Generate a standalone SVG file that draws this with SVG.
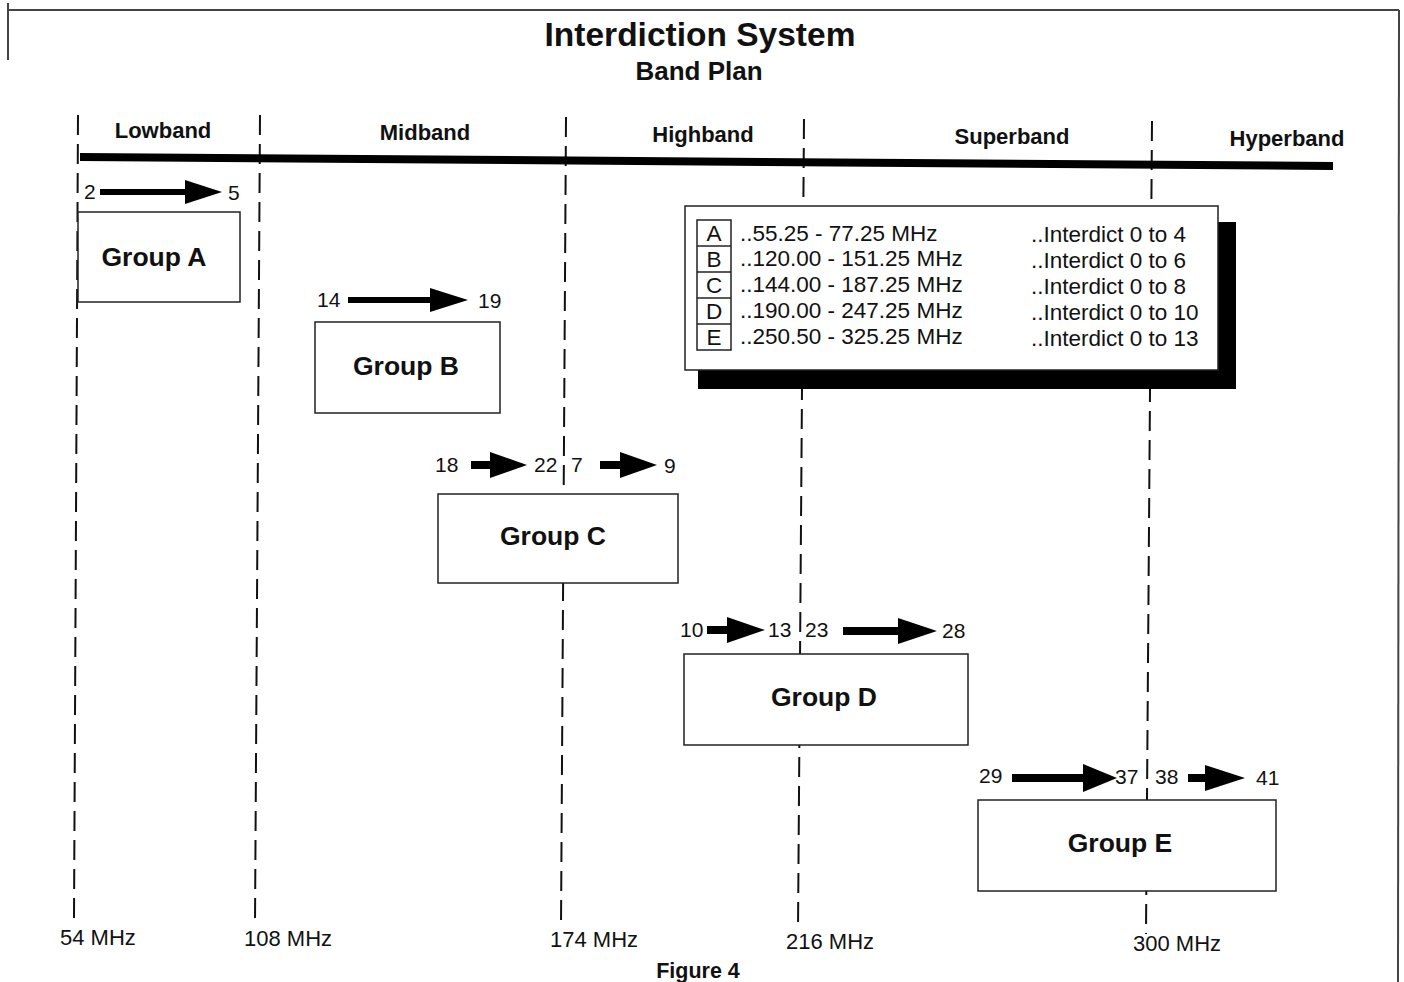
<svg xmlns="http://www.w3.org/2000/svg" width="1404" height="982" viewBox="0 0 1404 982">
<style>
  .t { font-family: "Liberation Sans", Arial, sans-serif; fill: #111; }
  .b { font-weight: bold; }
  .band { font-family: "Liberation Sans", Arial, sans-serif; font-weight: bold; font-size: 22px; text-anchor: middle; fill: #111; }
  .num { font-family: "Liberation Sans", Arial, sans-serif; font-size: 21px; fill: #111; }
  .freq { font-family: "Liberation Sans", Arial, sans-serif; font-size: 22px; fill: #111; }
  .leg { font-family: "Liberation Sans", Arial, sans-serif; font-size: 22.5px; fill: #111; }
  .grp rect { fill: #fff; stroke: #222; stroke-width: 1.5; }
  .grp text { font-family: "Liberation Sans", Arial, sans-serif; font-weight: bold; font-size: 26.5px; text-anchor: middle; fill: #111; }
  .dash { stroke: #111; stroke-width: 2; stroke-dasharray: 20 9; fill: none; }
  .arr { fill: #000; }
</style>
<rect width="1404" height="982" fill="#fff"/>
<g id="border" stroke="#444" stroke-width="2" fill="none">
  <line x1="8" y1="10" x2="1399" y2="10"/>
  <line x1="1399" y1="10" x2="1398" y2="982"/>
  <line x1="8" y1="3" x2="8" y2="60"/>
</g>
<g id="title">
  <text class="t b" x="700" y="46" font-size="33.5" text-anchor="middle">Interdiction System</text>
  <text class="t b" x="699" y="80" font-size="26" text-anchor="middle">Band Plan</text>
</g>
<g id="dividers">
  <line class="dash" x1="78" y1="115" x2="74" y2="918"/>
  <line class="dash" x1="260" y1="115" x2="255" y2="922"/>
  <line class="dash" x1="566" y1="117" x2="561" y2="926"/>
  <line class="dash" x1="804" y1="119" x2="798" y2="930"/>
  <line class="dash" x1="1152" y1="121" x2="1146" y2="934"/>
</g>
<g id="band-bar">
  <path d="M80 153 L1333 162 L1333 170 L80 161 Z" fill="#000"/>
</g>
<g id="band-labels">
  <text class="band" x="163" y="138">Lowband</text>
  <text class="band" x="425" y="140">Midband</text>
  <text class="band" x="703" y="142">Highband</text>
  <text class="band" x="1012" y="144">Superband</text>
  <text class="band" x="1287" y="146">Hyperband</text>
</g>
<g id="legend">
  <rect x="698" y="222" width="538" height="167" fill="#000"/>
  <rect x="685" y="206" width="533" height="164" fill="#fff" stroke="#222" stroke-width="1.5"/>
  <g fill="none" stroke="#222" stroke-width="1.5">
    <rect x="697" y="220" width="34" height="130"/>
    <line x1="697" y1="246" x2="731" y2="246"/>
    <line x1="697" y1="272" x2="731" y2="272"/>
    <line x1="697" y1="298" x2="731" y2="298"/>
    <line x1="697" y1="324" x2="731" y2="324"/>
  </g>
  <g class="leg" text-anchor="middle">
    <text x="714" y="241">A</text>
    <text x="714" y="267">B</text>
    <text x="714" y="293">C</text>
    <text x="714" y="319">D</text>
    <text x="714" y="345">E</text>
  </g>
  <g class="leg">
    <text x="740" y="241">..55.25 - 77.25 MHz</text>
    <text x="740" y="266">..120.00 - 151.25 MHz</text>
    <text x="740" y="292">..144.00 - 187.25 MHz</text>
    <text x="740" y="318">..190.00 - 247.25 MHz</text>
    <text x="740" y="344">..250.50 - 325.25 MHz</text>
    <text x="1031" y="242">..Interdict 0 to 4</text>
    <text x="1031" y="268">..Interdict 0 to 6</text>
    <text x="1031" y="294">..Interdict 0 to 8</text>
    <text x="1031" y="320">..Interdict 0 to 10</text>
    <text x="1031" y="346">..Interdict 0 to 13</text>
  </g>
</g>
<g id="groupA" class="grp">
  <rect x="78" y="212" width="162" height="90"/>
  <text x="154" y="266">Group A</text>
</g>
<g id="groupB" class="grp">
  <rect x="315" y="322" width="185" height="91"/>
  <text x="406" y="375">Group B</text>
</g>
<g id="groupC" class="grp">
  <rect x="438" y="494" width="240" height="89"/>
  <text x="553" y="545">Group C</text>
</g>
<g id="groupD" class="grp">
  <rect x="684" y="654" width="284" height="91"/>
  <text x="824" y="706">Group D</text>
</g>
<g id="groupE" class="grp">
  <rect x="978" y="800" width="298" height="91"/>
  <text x="1120" y="852">Group E</text>
</g>
<g id="connectors">
  <path class="arr" d="M100 189 L185 189 L185 180 L222 192 L185 204 L185 195 L100 195 Z"/>
  <path class="arr" d="M348 297 L430 297 L430 288 L468 300 L430 312 L430 303 L348 303 Z"/>
  <path class="arr" d="M471 461 L490 461 L490 452 L527 465 L490 478 L490 469 L471 469 Z"/>
  <path class="arr" d="M600 461 L620 461 L620 452 L657 465 L620 478 L620 469 L600 469 Z"/>
  <path class="arr" d="M707 626 L727 626 L727 617 L765 630 L727 643 L727 634 L707 634 Z"/>
  <path class="arr" d="M843 627 L898 627 L898 618 L937 631 L898 644 L898 635 L843 635 Z"/>
  <path class="arr" d="M1012 774 L1083 774 L1083 764 L1117 778 L1083 792 L1083 782 L1012 782 Z"/>
  <path class="arr" d="M1188 774 L1205 774 L1205 765 L1245 778 L1205 791 L1205 782 L1188 782 Z"/>
</g>
<g id="channel-numbers" class="num">
  <text x="84" y="199">2</text>
  <text x="228" y="200">5</text>
  <text x="317" y="307">14</text>
  <text x="478" y="308">19</text>
  <text x="435" y="472">18</text>
  <text x="534" y="472">22</text>
  <text x="571" y="472">7</text>
  <text x="664" y="473">9</text>
  <text x="680" y="637">10</text>
  <text x="768" y="637">13</text>
  <text x="805" y="637">23</text>
  <text x="942" y="638">28</text>
  <text x="979" y="783">29</text>
  <text x="1115" y="784">37</text>
  <text x="1155" y="784">38</text>
  <text x="1256" y="785">41</text>
</g>
<g id="freq-labels" class="freq">
  <text x="60" y="945">54 MHz</text>
  <text x="244" y="946">108 MHz</text>
  <text x="550" y="947">174 MHz</text>
  <text x="786" y="949">216 MHz</text>
  <text x="1133" y="951">300 MHz</text>
</g>
<text class="t b" x="698" y="978" font-size="21.5" text-anchor="middle">Figure 4</text>
</svg>
